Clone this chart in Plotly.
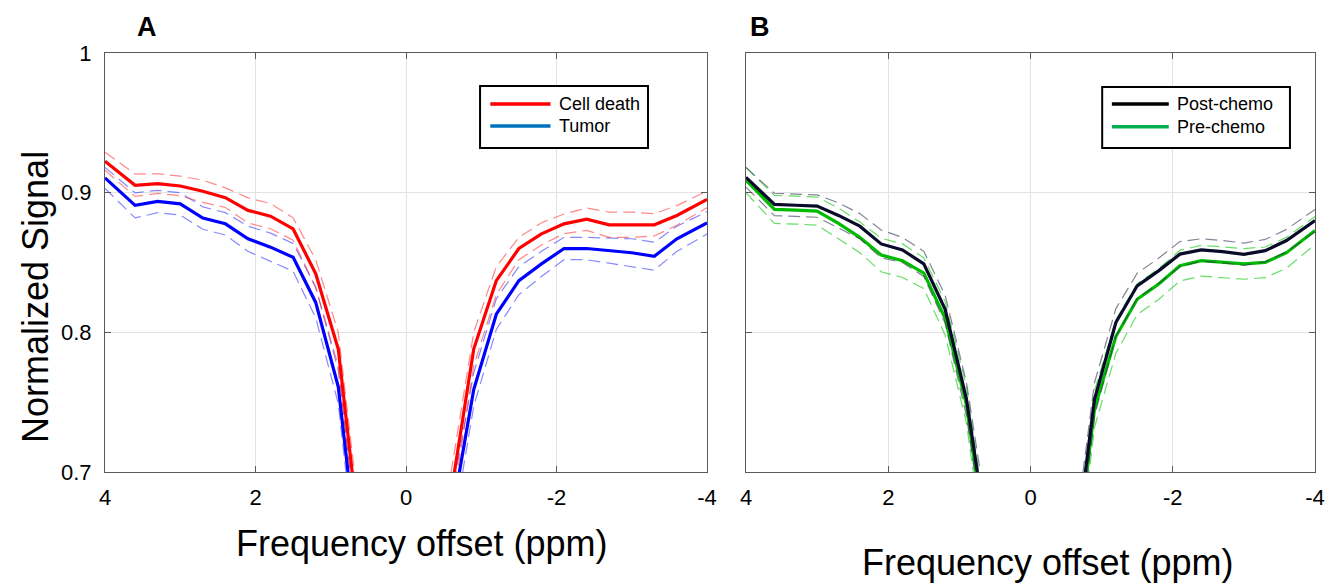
import plotly.graph_objects as go

# frequency offsets (ppm) of the Z-spectrum samples
ppm = [4, 3.6, 3.3, 3.0, 2.7, 2.4, 2.1, 1.8, 1.5, 1.2, 0.9, 0.6,
       -0.6, -0.9, -1.2, -1.5, -1.8, -2.1, -2.4, -2.7, -3.0, -3.3, -3.6, -4]

# panel A
cell_death = [0.9225, 0.9053, 0.9065, 0.9048, 0.9010, 0.8964, 0.8873, 0.8832, 0.8740, 0.8420, 0.7880, 0.6450,
              0.6850, 0.7880, 0.8370, 0.8600, 0.8705, 0.8777, 0.8810, 0.8770, 0.8770, 0.8770, 0.8837, 0.8952]
cell_death_sd = [0.0065, 0.0080, 0.0070, 0.0070, 0.0080, 0.0070, 0.0090, 0.0090, 0.0080, 0.0100, 0.0120, 0.0150,
                 0.0150, 0.0120, 0.0100, 0.0080, 0.0080, 0.0070, 0.0080, 0.0090, 0.0090, 0.0080, 0.0070, 0.0060]
tumor = [0.9106, 0.8909, 0.8937, 0.8920, 0.8818, 0.8777, 0.8670, 0.8610, 0.8537, 0.8214, 0.7610, 0.6200,
         0.6660, 0.7590, 0.8130, 0.8370, 0.8490, 0.8600, 0.8600, 0.8585, 0.8570, 0.8545, 0.8670, 0.8784]
tumor_sd = [0.0075, 0.0090, 0.0080, 0.0080, 0.0080, 0.0080, 0.0090, 0.0100, 0.0100, 0.0110, 0.0120, 0.0150,
            0.0150, 0.0120, 0.0110, 0.0100, 0.0090, 0.0080, 0.0080, 0.0090, 0.0100, 0.0100, 0.0090, 0.0080]

# panel B
post_chemo = [0.9110, 0.8916, 0.8910, 0.8904, 0.8837, 0.8760, 0.8633, 0.8590, 0.8490, 0.8165, 0.7520, 0.6500,
              0.6300, 0.7520, 0.8070, 0.8333, 0.8440, 0.8560, 0.8590, 0.8578, 0.8559, 0.8585, 0.8657, 0.8800]
post_chemo_sd = [0.0070, 0.0080, 0.0080, 0.0080, 0.0090, 0.0090, 0.0100, 0.0090, 0.0090, 0.0100, 0.0120, 0.0150,
                 0.0150, 0.0120, 0.0100, 0.0090, 0.0090, 0.0090, 0.0080, 0.0080, 0.0080, 0.0080, 0.0080, 0.0080]
pre_chemo = [0.9090, 0.8880, 0.8875, 0.8868, 0.8780, 0.8680, 0.8554, 0.8513, 0.8424, 0.8100, 0.7480, 0.6400,
             0.6200, 0.7450, 0.7970, 0.8237, 0.8345, 0.8477, 0.8513, 0.8501, 0.8490, 0.8501, 0.8570, 0.8729]
pre_chemo_sd = [0.0090, 0.0100, 0.0100, 0.0100, 0.0110, 0.0110, 0.0120, 0.0120, 0.0110, 0.0120, 0.0130, 0.0150,
                0.0150, 0.0130, 0.0120, 0.0110, 0.0110, 0.0110, 0.0110, 0.0110, 0.0110, 0.0110, 0.0110, 0.0100]

x_ticks = [4, 2, 0, -2, -4]
x_tick_labels = ["4", "2", "0", "-2", "-4"]
y_ticks = [0.7, 0.8, 0.9, 1.0]
y_tick_labels = ["0.7", "0.8", "0.9", "1"]

W, H = 1332, 585
FONT = "Liberation Sans, Arial, sans-serif"

# plot areas in pixels (left, right, top, bottom)
A_BOX = (105, 707, 53, 472)
B_BOX = (746, 1315, 53, 472)


def px_x(p):
    return p / W


def px_y(p):
    return 1 - p / H


def add_series(fig, mean, sd, solid_col, dash_col, xa, ya):
    upper = [m + s for m, s in zip(mean, sd)]
    lower = [m - s for m, s in zip(mean, sd)]
    for band in (upper, lower):
        fig.add_trace(go.Scatter(x=ppm, y=band, mode="lines", xaxis=xa, yaxis=ya,
                                 line=dict(color=dash_col, width=1.2, dash="12px,6px"),
                                 showlegend=False, hoverinfo="skip"))
    fig.add_trace(go.Scatter(x=ppm, y=mean, mode="lines", xaxis=xa, yaxis=ya,
                             line=dict(color=solid_col, width=3.2), showlegend=False))


def add_legend(fig, xref, yref, box, entries):
    # box = (x0, x1, y0, y1) in axis-domain fractions
    x0, x1, y0, y1 = box
    fig.add_shape(type="rect", xref=xref, yref=yref, x0=x0, x1=x1, y0=y0, y1=y1,
                  line=dict(color="black", width=2), fillcolor="white", layer="above")
    for (label, col, yy) in entries:
        fig.add_shape(type="line", xref=xref, yref=yref, x0=x0 + 0.017, x1=x0 + 0.117, y0=yy, y1=yy,
                      line=dict(color=col, width=3.5), layer="above")
        fig.add_annotation(xref=xref, yref=yref, x=x0 + 0.128, y=yy, text=label, showarrow=False,
                           xanchor="left", yanchor="middle", font=dict(size=18, color="black", family=FONT))


def add_text(fig, x, y, text, size, angle=0):
    fig.add_annotation(xref="paper", yref="paper", x=px_x(x), y=px_y(y), text=text, textangle=angle,
                       xanchor="center", yanchor="middle", showarrow=False,
                       font=dict(size=size, family=FONT, color="black"))


fig = go.Figure()

add_series(fig, tumor, tumor_sd, "#0000ff", "rgba(40,40,255,0.55)", "x", "y")
add_series(fig, cell_death, cell_death_sd, "#ff0000", "rgba(255,40,40,0.55)", "x", "y")
add_series(fig, pre_chemo, pre_chemo_sd, "#00bb00", "rgba(0,200,0,0.6)", "x2", "y2")
add_series(fig, post_chemo, post_chemo_sd, "#0a0a2a", "rgba(50,50,80,0.6)", "x2", "y2")

axis_common = dict(showgrid=True, gridcolor="#e3e3e3", gridwidth=1, zeroline=False,
                   showline=True, linecolor="#5a5a5a", linewidth=1, mirror="ticks",
                   ticks="inside", ticklen=6, tickcolor="#5a5a5a",
                   tickfont=dict(size=22, color="black", family=FONT), automargin=False)

fig.update_layout(
    width=W, height=H,
    margin=dict(l=0, r=0, t=0, b=0),
    plot_bgcolor="white", paper_bgcolor="white",
    showlegend=False,
    font=dict(family=FONT, color="black"),
    xaxis=dict(domain=[px_x(A_BOX[0]), px_x(A_BOX[1])], range=[4, -4], anchor="y",
               tickvals=x_ticks, ticktext=x_tick_labels, ticklabelstandoff=6, **axis_common),
    yaxis=dict(domain=[px_y(A_BOX[3]), px_y(A_BOX[2])], range=[0.7, 1.0], anchor="x",
               tickvals=y_ticks, ticktext=y_tick_labels, ticklabelstandoff=8, **axis_common),
    xaxis2=dict(domain=[px_x(B_BOX[0]), px_x(B_BOX[1])], range=[4, -4], anchor="y2",
                tickvals=x_ticks, ticktext=x_tick_labels, ticklabelstandoff=6, **axis_common),
    yaxis2=dict(domain=[px_y(B_BOX[3]), px_y(B_BOX[2])], range=[0.7, 1.0], anchor="x2",
                tickvals=y_ticks, showticklabels=False, **axis_common),
)

add_legend(fig, "x domain", "y domain", (0.623, 0.902, 0.773, 0.921),
           [("Cell death", "#ff0000", 0.878), ("Tumor", "#0072bd", 0.826)])
add_legend(fig, "x2 domain", "y2 domain", (0.626, 0.956, 0.773, 0.919),
           [("Post-chemo", "#000000", 0.878), ("Pre-chemo", "#00b050", 0.824)])

# panel letters and axis titles
add_text(fig, 147, 27, "<b>A</b>", 27)
add_text(fig, 760, 27, "<b>B</b>", 27)
add_text(fig, 422, 543, "Frequency offset (ppm)", 36)
add_text(fig, 1048, 562, "Frequency offset (ppm)", 36)
add_text(fig, 35, 297, "Normalized Signal", 36, angle=-90)

# page body margin would shift the figure by 8px
fig.write_html("out.html", config={"displayModeBar": False},
               post_script="document.body.style.margin='0';")
